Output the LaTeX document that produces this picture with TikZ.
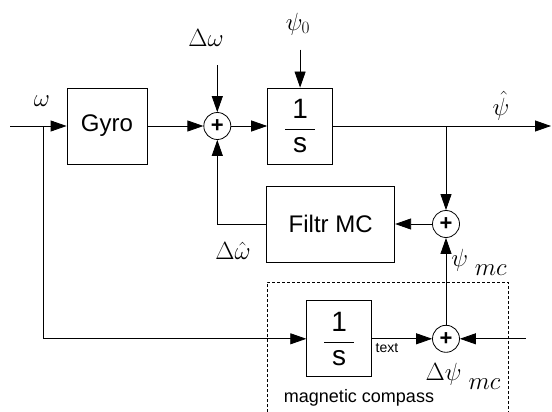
\documentclass[tikz,border=0pt]{standalone}
\usepackage{fontspec}
\setmainfont{Liberation Sans}
\usetikzlibrary{arrows.meta,positioning}
\tikzset{
  base/.style={draw,line width=0.8pt,inner sep=0pt,minimum height=76pt},
  block/.style={base,font=\fontsize{24}{28}\selectfont},
  integ/.style={base,minimum width=65pt,font=\fontsize{28}{30}\selectfont},
  sum/.style={circle,draw,line width=0.8pt,minimum size=27pt,inner sep=0pt,font=\fontsize{22}{22}\selectfont\bfseries},
  signal/.style={font=\fontsize{23}{26}\selectfont,inner sep=0pt},
  note/.style={inner sep=0pt},
  flow/.style={-{Triangle[length=16pt,width=11pt]},line width=0.8pt},
  wire/.style={line width=0.8pt},
  group/.style={line width=0.6pt,dash pattern=on 3pt off 2pt}
}
\newcommand{\oneovers}{$\displaystyle\frac{\makebox[30pt]{1}}{\makebox[30pt]{s}}$}

\begin{document}
\begin{tikzpicture}[x=1pt,y=1pt]
\useasboundingbox (0,0) rectangle (552,-412);
\node[block,minimum width=80pt] (gyro) at (107,-126) {Gyro};
\node[sum,right=56pt of gyro] (sum1) {+};
\node[integ,right=36pt of sum1] (int1) {\oneovers};
\node[sum] (sum2) at (446,-224) {+};
\node[block,minimum width=128pt,left=37pt of sum2] (filtr) {Filtr MC};
\node[sum,below=87pt of sum2] (sum3) {+};
\node[integ,left=60pt of sum3] (int2) {\oneovers};

\coordinate (in) at (10,-126);
\coordinate (split) at (43,-126);
\coordinate (out) at (551,-126);
\coordinate (tap) at (sum2 |- int1.east);
\coordinate[above=47pt of sum1] (dwin);
\coordinate[above=38pt of int1] (psiin);
\coordinate[right=66pt of sum3] (dpin);

\node[signal] (omega) at (42,-101) {$\omega$};
\node[signal] (domega) at (206,-38) {$\Delta\omega$};
\node[signal] (psi0) at (298,-24) {$\psi_0$};
\node[signal] (psihat) at (501,-106) {$\hat\psi$};
\node[signal] (dwhat) at (233,-251) {$\Delta\hat\omega$};
\node[signal] (psimc) at (479,-262) {$\psi\;\raisebox{-9pt}{$mc$}$};
\node[signal] (dpsimc) at (463,-376) {$\Delta\psi\;\raisebox{-9pt}{$mc$}$};
\node[note,font=\fontsize{14}{14}\selectfont] (txt) at (387,-348) {text};
\node[note,font=\fontsize{18}{20}\selectfont] (mcomp) at (359,-398) {magnetic compass};

% magnetic compass frame
\draw[group] (267,-412) -- (267,-282) -- (508,-282) -- (508,-412);

\draw[wire] (in) -- (split);
\draw[flow] (split) -- (gyro);
\draw[flow] (gyro) -- (sum1);
\draw[flow] (sum1) -- (int1);
\draw[wire] (int1) -- (tap);
\draw[flow] (tap) -- (out);
\draw[flow] (tap) -- (sum2);
\draw[flow] (dwin) -- (sum1);
\draw[flow] (psiin) -- (int1);
\draw[flow] (sum2) -- (filtr);
\draw[flow] (filtr.west) -| (sum1.south);
\draw[flow] (split) |- (int2.west);
\draw[flow] (int2) -- (sum3);
\draw[flow] (dpin) -- (sum3);
\draw[flow] (sum3) -- (sum2);
\end{tikzpicture}
\end{document}
